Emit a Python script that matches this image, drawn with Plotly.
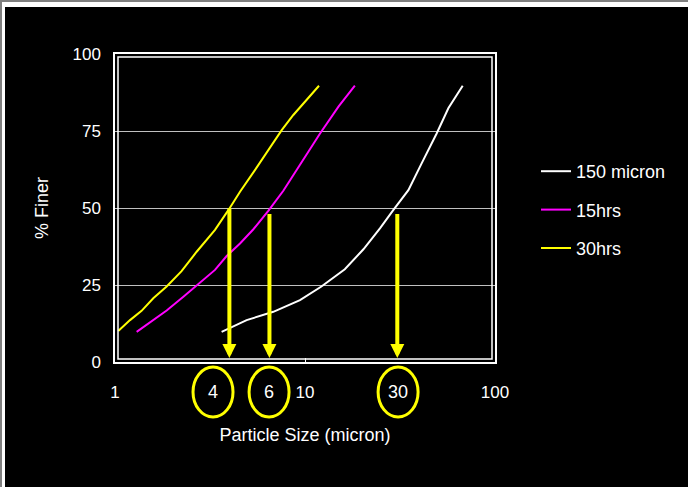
import math
import plotly.graph_objects as go

# ---- data ----
size_150 = [3.64, 4.93, 6.81, 9.41, 12.2, 16.2, 20.3, 24.8, 29.2, 35.0, 41.1, 49.3, 56.8, 67.6]
finer_150 = [9.8, 13.6, 16.3, 20.1, 24.5, 30.1, 36.6, 43.4, 49.4, 55.8, 64.5, 74.2, 82.4, 89.7]

size_15h = [1.30, 1.59, 1.87, 2.29, 2.80, 3.36, 3.87, 4.55, 5.35, 6.41, 7.69, 8.68, 10.2, 12.0, 15.0, 18.3]
finer_15h = [9.8, 13.6, 16.7, 21.2, 25.7, 29.9, 34.4, 38.5, 43.1, 49.1, 55.6, 60.7, 67.8, 74.2, 82.9, 89.7]

size_30h = [1.04, 1.20, 1.38, 1.59, 1.87, 2.24, 2.69, 3.36, 3.95, 4.55, 5.45, 6.41, 7.54, 8.68, 10.2, 11.85]
finer_30h = [10.1, 13.6, 16.6, 20.7, 24.5, 29.5, 35.8, 42.9, 49.3, 55.3, 62.3, 68.8, 75.3, 80.2, 85.0, 89.7]

series_names = ["150 micron", "15hrs", "30hrs"]
series_colors = ["#FFFFFF", "#FF00FF", "#FFFF00"]

# D50 arrows
arrow_x = [4.0, 6.5, 30.6]
arrow_top = [50.4, 48.5, 48.5]
arrow_tip = [1.3, 1.3, 1.3]

# circled labels below the axis
d50_labels = ["4", "6", "30"]
d50_label_x = [3.28, 6.47, 30.9]

x_tickvals = [1, 10, 100]
x_ticktext = ["1", "10", "100"]
y_tickvals = [0, 25, 50, 75, 100]

# ---- layout geometry ----
W, H = 688, 487
L, T = 115, 54
PW, PH = 380, 308
R, B = W - L - PW, H - T - PH

FONT = "Liberation Sans, Arial, sans-serif"


def px2x(p):  # screen px -> paper x
    return (p - L) / PW


def py2y(p):  # screen px -> paper y
    return (T + PH - p) / PH


fig = go.Figure()
for xs, ys, name, col in zip([size_150, size_15h, size_30h],
                             [finer_150, finer_15h, finer_30h],
                             series_names, series_colors):
    fig.add_trace(go.Scatter(x=xs, y=ys, mode="lines", name=name,
                             legendgroup=name,
                             line=dict(color=col, width=2)))

annotations = []
for xa, yt, yb in zip(arrow_x, arrow_top, arrow_tip):
    annotations.append(dict(
        x=math.log10(xa), y=yb, xref="x", yref="y",
        ax=math.log10(xa), ay=yt, axref="x", ayref="y",
        showarrow=True, arrowhead=2, arrowsize=0.7, arrowwidth=4,
        arrowcolor="#FFFF00", text="", standoff=0, startstandoff=0))

label_y_px = 392
shapes = []
for lab, lx in zip(d50_labels, d50_label_x):
    px = math.log10(lx) / 2.0
    py = py2y(label_y_px)
    annotations.append(dict(x=px, y=py, xref="paper", yref="paper",
                            text=lab, showarrow=False,
                            xanchor="center", yanchor="middle",
                            font=dict(family=FONT, size=18, color="#FFFFFF")))
    shapes.append(dict(type="circle", xref="paper", yref="paper",
                       xsizemode="pixel", ysizemode="pixel",
                       xanchor=px, yanchor=py,
                       x0=-20, x1=20, y0=-25, y1=25,
                       line=dict(color="#FFFF00", width=3)))

# inner frame line (double border look)
shapes.append(dict(type="rect", xref="paper", yref="paper",
                   x0=3 / PW, x1=1 - 3 / PW, y0=3 / PH, y1=1 - 3 / PH,
                   line=dict(color="#FFFFFF", width=1.5), layer="above"))

# gray / white page edge at top and left
shapes += [
    dict(type="rect", xref="paper", yref="paper", x0=px2x(-5), x1=px2x(W + 5),
         y0=py2y(2), y1=py2y(-5), fillcolor="#808080", line_width=0, layer="above"),
    dict(type="rect", xref="paper", yref="paper", x0=px2x(2), x1=px2x(W + 5),
         y0=py2y(7), y1=py2y(2), fillcolor="#FFFFFF", line_width=0, layer="above"),
    dict(type="rect", xref="paper", yref="paper", x0=px2x(-5), x1=px2x(2),
         y0=py2y(H + 5), y1=py2y(2), fillcolor="#808080", line_width=0, layer="above"),
    dict(type="rect", xref="paper", yref="paper", x0=px2x(2), x1=px2x(5),
         y0=py2y(H + 5), y1=py2y(2), fillcolor="#FFFFFF", line_width=0, layer="above"),
]

fig.update_layout(
    width=W, height=H,
    margin=dict(l=L, r=R, t=T, b=B, pad=0),
    paper_bgcolor="#000000", plot_bgcolor="#000000",
    font=dict(family=FONT, size=17, color="#FFFFFF"),
    showlegend=True,
    legend=dict(x=px2x(536), y=py2y(153), xanchor="left", yanchor="top",
                bgcolor="rgba(0,0,0,0)", font=dict(family=FONT, size=18, color="#FFFFFF"),
                tracegroupgap=12, traceorder="grouped"),
    annotations=annotations,
    shapes=shapes,
)

fig.update_xaxes(type="log", range=[0, 2], tickvals=x_tickvals, ticktext=x_ticktext,
                 showgrid=False, zeroline=False,
                 showline=True, linecolor="#FFFFFF", linewidth=1.5, mirror=True,
                 ticks="inside", ticklen=4, tickcolor="#FFFFFF", tickwidth=1,
                 ticklabelstandoff=14,
                 tickfont=dict(family=FONT, size=17, color="#FFFFFF"),
                 title=dict(text="Particle Size (micron)", standoff=27,
                            font=dict(family=FONT, size=18, color="#FFFFFF")))

fig.update_yaxes(range=[0, 100], tickvals=y_tickvals,
                 showgrid=True, gridcolor="#C0C0C0", gridwidth=1, zeroline=False,
                 showline=True, linecolor="#FFFFFF", linewidth=1.5, mirror=True,
                 ticks="", ticklabelstandoff=9,
                 tickfont=dict(family=FONT, size=17, color="#FFFFFF"),
                 title=dict(text="% Finer", standoff=19,
                            font=dict(family=FONT, size=18, color="#FFFFFF")))

fig.write_html("out.html",
               config={"displayModeBar": False},
               post_script="document.body.style.margin='0';"
                           "document.body.style.background='#000000';")
